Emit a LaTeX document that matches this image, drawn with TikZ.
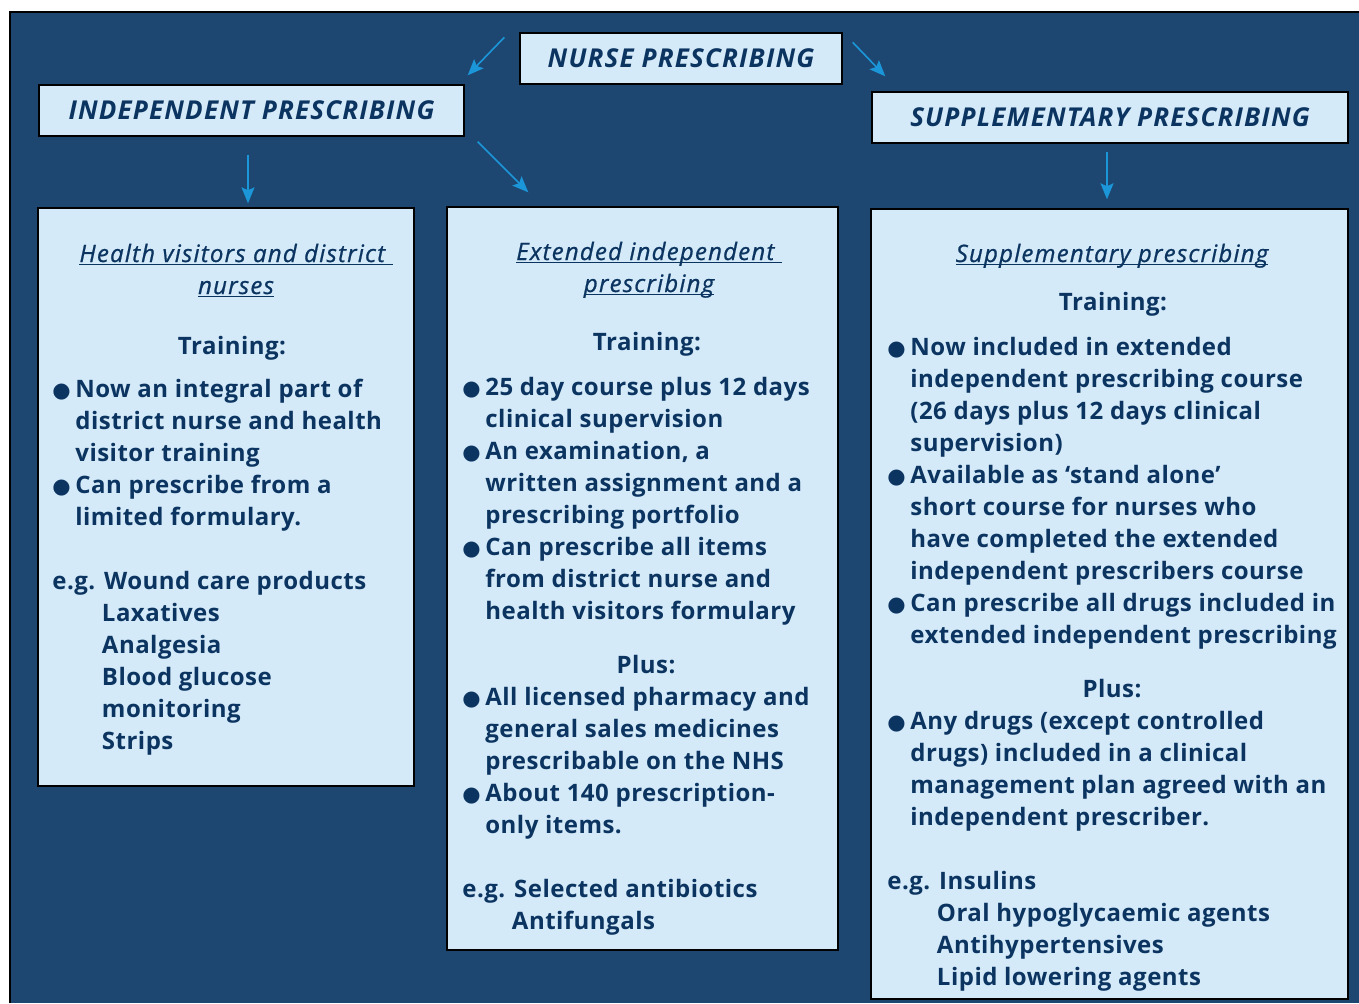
\documentclass[tikz,border=0pt]{standalone}
\usepackage{fontspec}
\setmainfont{Open Sans}[LetterSpace=2]
\newfontfamily\symfont{DejaVu Sans}
\usetikzlibrary{arrows.meta,fit}

\definecolor{bgblue}{HTML}{1D4770}
\definecolor{panelblue}{HTML}{D4EAF9}
\definecolor{inkblue}{HTML}{0B3460}
\definecolor{arrowblue}{HTML}{1B96D9}

\newcommand\bul{\makebox[11.5pt][l]{\raisebox{-0.2pt}{\symfont\fontsize{10.5}{12}\selectfont ●}}}
\newcommand\ind{\hspace*{11.5pt}}
\newcommand\egind{\hphantom{e.g.\ }}
\newcommand\hdline[1]{\setbox0\hbox{#1}\rlap{\rule[-1.6pt]{\wd0}{0.6pt}}\box0}

\begin{document}
\begin{tikzpicture}[
  x=0.5pt,y=-0.5pt,
  panel/.style={draw=black,line width=0.7pt,fill=panelblue,inner sep=0pt},
  titlebox/.style={panel,text=inkblue,minimum height=25.5pt,font=\bfseries\itshape\fontsize{13}{15}\selectfont\addfontfeatures{LetterSpace=4.5}},
  heading/.style={anchor=base,align=center,inner sep=0pt,text=inkblue,font=\itshape\fontsize{12}{16}\selectfont\addfontfeatures{LetterSpace=5,FakeBold=0.8}},
  subhead/.style={anchor=base,inner sep=0pt,text=inkblue,font=\bfseries\fontsize{12}{16}\selectfont},
  textblock/.style={anchor=base west,align=left,inner sep=0pt,text=inkblue,font=\bfseries\fontsize{12}{16}\selectfont},
  link/.style={draw=arrowblue,line width=0.8pt,-{Stealth[length=8pt,width=6.5pt,inset=1.5pt]}}
]
  \useasboundingbox (0,0) rectangle (1359,1003);
  \fill[bgblue] (10,12) rectangle (1359,1003);
  \draw[black,line width=0.8pt] (10,1003) -- (10,12) -- (1359,12);

  % top row
  \node[titlebox,minimum width=161pt] (nurse) at (681,58.5) {NURSE PRESCRIBING};
  \node[titlebox,minimum width=212.5pt] (indep) at (251.5,110.5) {INDEPENDENT PRESCRIBING};
  \node[titlebox,minimum width=238pt] (suppl) at (1110,117.5) {SUPPLEMENTARY PRESCRIBING};

  % panels
  \node[panel,fit={(38,208) (414,786)}] (hv) {};
  \node[panel,fit={(447,207) (838,950)}] (ext) {};
  \node[panel,fit={(871,209) (1348,999)}] (sp) {};

  \draw[link] ([shift={(-15,5)}]nurse.north west) -- ([shift={(3,-9)}]indep.north east);
  \draw[link] ([shift={(10,10)}]nurse.north east) -- ([shift={(14,-15)}]suppl.north west);
  \draw[link] ([shift={(-3.5,18)}]indep.south) -- ([shift={(22,-4)}]hv.north);
  \draw[link] ([shift={(13,5)}]indep.south east) -- ([shift={(82,-14)}]ext.north west);
  \draw[link] ([shift={(-3,8)}]suppl.south) -- ([shift={(-2.5,-9)}]sp.north);

  % health visitors and district nurses (nodes sit on their last baseline)
  \node[heading] (hvhead) at (236,294) {\hdline{Health visitors and district\ }\\\hdline{nurses}};
  \node[subhead] (hvtrain) at (232,354) {Training:};
  \node[textblock] (hvlist) at (52,749) {%
    \bul Now an integral part of\\
    \ind district nurse and health\\
    \ind visitor training\\
    \bul Can prescribe from a\\
    \ind limited formulary.\\[16pt]
    e.g. Wound care products\\
    \egind Laxatives\\
    \egind Analgesia\\
    \egind Blood glucose\\
    \egind monitoring\\
    \egind Strips};

  % extended independent prescribing
  \node[heading] (exthead) at (649,292) {\hdline{Extended independent\ }\\\hdline{prescribing}};
  \node[subhead] (exttrain) at (647,350) {Training:};
  \node[textblock] (extlist) at (462,619) {%
    \bul 25 day course plus 12 days\\
    \ind clinical supervision\\
    \bul An examination, a\\
    \ind written assignment and a\\
    \ind prescribing portfolio\\
    \bul Can prescribe all items\\
    \ind from district nurse and\\
    \ind health visitors formulary};
  \node[subhead] (extplus) at (646,673) {Plus:};
  \node[textblock] (extmore) at (462,929) {%
    \bul All licensed pharmacy and\\
    \ind general sales medicines\\
    \ind prescribable on the NHS\\
    \bul About 140 prescription-\\
    \ind only items.\\[16pt]
    e.g. Selected antibiotics\\
    \egind Antifungals};

  % supplementary prescribing
  \node[heading] (sphead) at (1112,262) {\hdline{Supplementary prescribing}};
  \node[subhead] (sptrain) at (1113,310) {Training:};
  \node[textblock] (splist) at (887,643) {%
    \bul Now included in extended\\
    \ind independent prescribing course\\
    \ind (26 days plus 12 days clinical\\
    \ind supervision)\\
    \bul Available as ‘stand alone’\\
    \ind short course for nurses who\\
    \ind have completed the extended\\
    \ind independent prescribers course\\
    \bul Can prescribe all drugs included in\\
    \ind extended independent prescribing};
  \node[subhead] (spplus) at (1112,697) {Plus:};
  \node[textblock] (spmore) at (887,985) {%
    \bul Any drugs (except controlled\\
    \ind drugs) included in a clinical\\
    \ind management plan agreed with an\\
    \ind independent prescriber.\\[16pt]
    e.g. Insulins\\
    \egind Oral hypoglycaemic agents\\
    \egind Antihypertensives\\
    \egind Lipid lowering agents};
\end{tikzpicture}
\end{document}
